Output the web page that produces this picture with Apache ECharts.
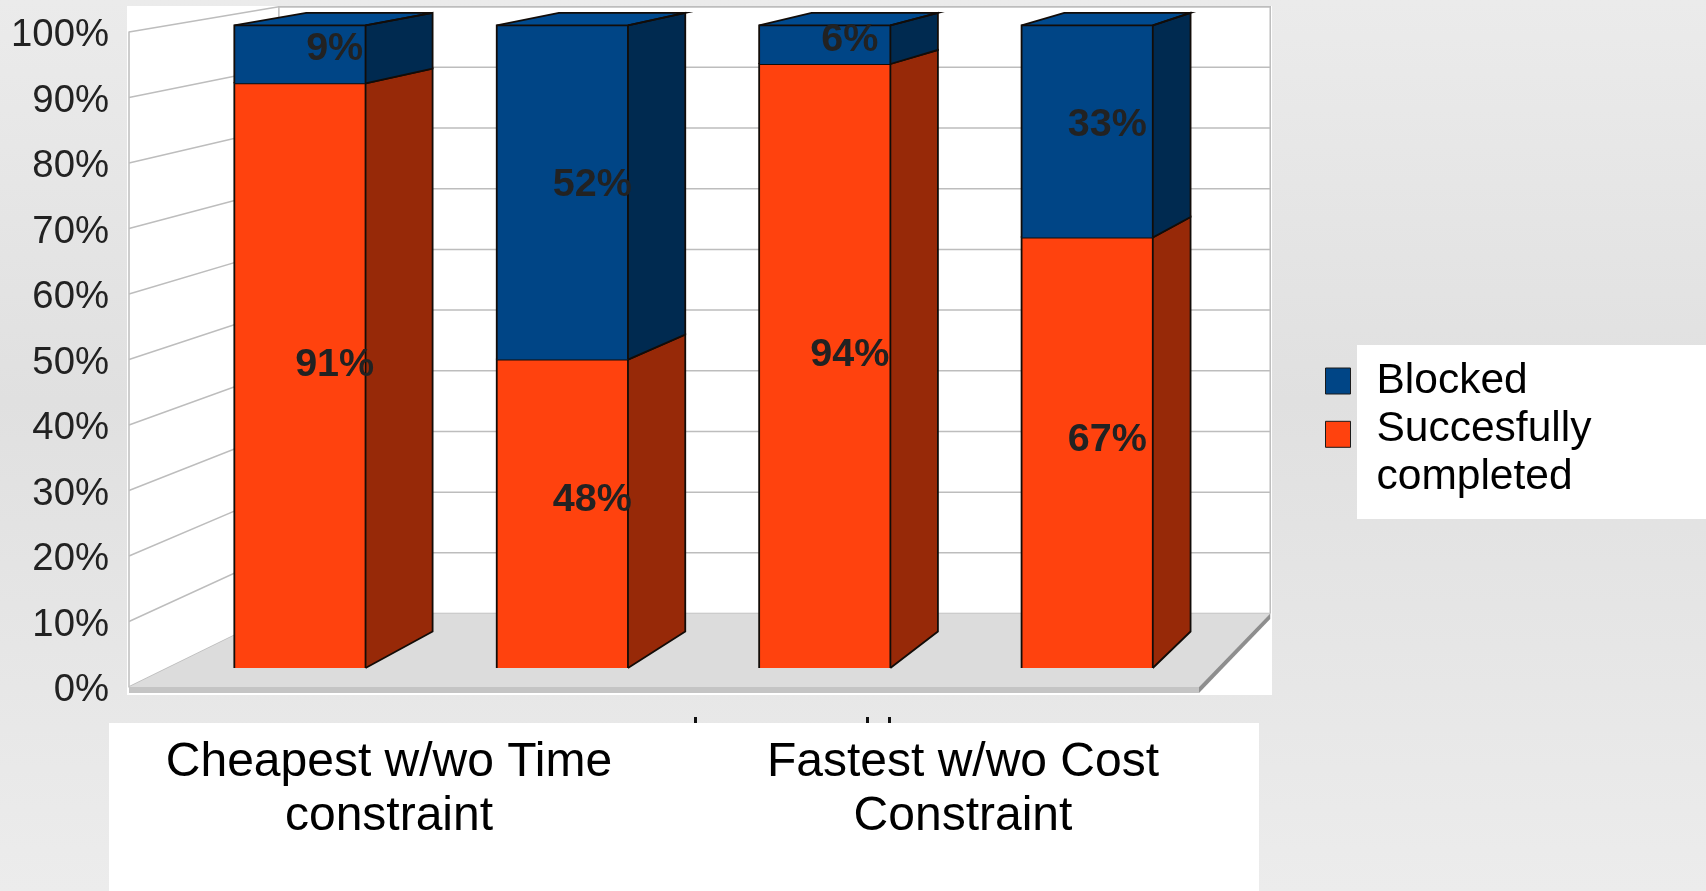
<!DOCTYPE html>
<html>
<head>
<meta charset="utf-8">
<title>Routing outcome by constraint</title>
<style>html,body{margin:0;padding:0;width:100%;height:100%;overflow:hidden}#chart{width:1706px;height:891px}</style>
<script src="https://cdn.jsdelivr.net/npm/echarts@6/dist/echarts.min.js"></script>
</head>
<body>
<div id="chart"></div>
<script>
// Chart values
const barSlots = ['1', '2', '3', '4'];
const completedValues = [91, 48, 94, 67];
const blockedValues = [9, 52, 6, 33];
const yTicks = [0, 10, 20, 30, 40, 50, 60, 70, 80, 90, 100];
const strategyLabels = ['Cheapest w/wo Time\nconstraint', 'Fastest w/wo Cost\nConstraint'];

const FONT = '"Liberation Sans", Arial, sans-serif';

// One-point perspective: depth 0 is the front of the floor, 1 would be the vanishing point.
const VANISH = [2168, -313];
const BAR_FRONT = 0.019, BAR_BACK = 0.0555, WALL_BACK = 0.0735;
const BAR_SHIFT = 1;
const project = (p, d) => [p[0] + d * (VANISH[0] - p[0]), p[1] + d * (VANISH[1] - p[1])];

// Draws a stacked block segment with its side face, and the top face when it ends the stack.
function blockRenderer(front, side, top, showTop) {
  return function (params, api) {
    const i = api.value(0), lo = api.value(1), hi = api.value(2), shown = api.value(3);
    const half = api.size([1, 0])[0] * 0.25;
    const c = api.coord([i, lo]), d = api.coord([i, hi]);
    const L = c[0] - half + BAR_SHIFT, R = c[0] + half + BAR_SHIFT, Y0 = c[1], Y1 = d[1];
    const f = (x, y) => project([x, y], BAR_FRONT), b = (x, y) => project([x, y], BAR_BACK);
    const edge = { stroke: '#120c08', lineWidth: 1.8, fill: null };
    const kids = [
      { type: 'polygon', shape: { points: [f(L, Y0), f(R, Y0), f(R, Y1), f(L, Y1)] }, style: { fill: front } },
      { type: 'polygon', shape: { points: [f(R, Y0), b(R, Y0), b(R, Y1), f(R, Y1)] }, style: { fill: side } }
    ];
    if (showTop) {
      kids.push({ type: 'polygon', shape: { points: [f(L, Y1), f(R, Y1), b(R, Y1), b(L, Y1)] }, style: { fill: top } });
      kids.push({ type: 'polyline', shape: { points: [f(L, Y1), b(L, Y1), b(R, Y1), f(R, Y1)] }, style: edge });
    }
    kids.push({ type: 'polyline', shape: { points: [f(L, Y0), f(L, Y1), f(R, Y1), f(R, Y0)] }, style: edge });
    kids.push({ type: 'polyline', shape: { points: [f(R, Y1), b(R, Y1), b(R, Y0), f(R, Y0)] }, style: edge });
    const mid = project([(L + R) / 2, (Y0 + Y1) / 2], (BAR_FRONT + BAR_BACK) / 2);
    kids.push({
      type: 'text', z2: 20,
      style: { x: mid[0], y: mid[1] + 2, text: shown + '%', fill: '#222222', font: 'bold 39.5px ' + FONT, align: 'center', verticalAlign: 'middle' }
    });
    return { type: 'group', children: kids };
  };
}

// Floor slab plus the side and back walls, with gridlines carried around both walls.
function roomRenderer(params, api) {
  const v = api.value(0);
  const grid = params.coordSys;
  const leftX = grid.x, rightX = grid.x + grid.width;
  const y = api.coord([0, v])[1];
  const gridStyle = { stroke: '#bdbdbd', lineWidth: 1.5, fill: null };
  const kids = [];
  if (v === 0) {
    kids.push({ type: 'polygon', z2: 1, shape: { points: [[leftX, y], [rightX, y], project([rightX, y], WALL_BACK), project([leftX, y], WALL_BACK)] }, style: { fill: '#dcdcdc' } });
    kids.push({ type: 'rect', z2: 1, shape: { x: leftX, y: y, width: rightX - leftX, height: 6 }, style: { fill: '#c4c4c4' } });
    kids.push({ type: 'polygon', z2: 1, shape: { points: [[rightX, y], project([rightX, y], WALL_BACK), project([rightX, y + 6], WALL_BACK), [rightX, y + 6]] }, style: { fill: '#8e8e8e' } });
    const top = api.coord([0, 100])[1];
    const corner = project([leftX, top], WALL_BACK), far = project([rightX, top], WALL_BACK), foot = project([leftX, y], WALL_BACK), farFoot = project([rightX, y], WALL_BACK);
    kids.push({ type: 'polyline', shape: { points: [foot, corner, far, farFoot] }, style: gridStyle });
  }
  const back = project([leftX, y], WALL_BACK);
  kids.push({ type: 'polyline', shape: { points: [[leftX, y], back, [project([rightX, y], WALL_BACK)[0], back[1]]] }, style: gridStyle });
  return { type: 'group', children: kids };
}

const rows = (lo, hi, shown) => barSlots.map((_, i) => [i, lo[i], hi[i], shown[i]]);
const zeros = barSlots.map(() => 0);
const option = {
  animation: false,
  backgroundColor: {
    type: 'linear', x: 0, y: 0, x2: 0, y2: 1,
    colorStops: [{ offset: 0, color: '#ebebeb' }, { offset: 0.45, color: '#e0e0e0' }, { offset: 1, color: '#ececec' }]
  },
  textStyle: { fontFamily: FONT },
  grid: [
    { left: 129, width: 1070, top: 32, height: 655 },
    { left: 102, width: 1148, top: 636, height: 72 }
  ],
  xAxis: [
    { type: 'category', gridIndex: 0, data: barSlots, axisLine: { show: false }, axisTick: { show: false }, axisLabel: { show: false } },
    {
      type: 'category', gridIndex: 1, data: strategyLabels, axisLine: { show: false }, axisTick: { show: false },
      axisLabel: { color: '#000000', fontFamily: FONT, fontSize: 48, lineHeight: 54, margin: 27.5, interval: 0 }
    }
  ],
  yAxis: [
    {
      type: 'value', gridIndex: 0, min: 0, max: 100, interval: 10, splitLine: { show: false }, axisTick: { show: false },
      axisLine: { show: true, lineStyle: { color: '#bdbdbd', width: 1.5 } },
      axisLabel: { formatter: '{value}%', color: '#222222', fontFamily: FONT, fontSize: 38.3, margin: 20, verticalAlign: 'top', lineHeight: 7 }
    },
    { type: 'value', gridIndex: 1, show: false }
  ],
  legend: {
    left: 1325, top: 346.5, padding: 0, orient: 'vertical', selectedMode: false, itemWidth: 25, itemHeight: 68, itemGap: -10.4,
    itemStyle: { borderColor: '#1a1a1a', borderWidth: 1 },
    formatter: (name) => name.replace(' ', '\n'),
    textStyle: { color: '#000000', fontFamily: FONT, fontSize: 42.5, lineHeight: 48, padding: [0, 0, 0, 21] },
    data: [
      // Swatches sit inside a taller icon box so the second one lines up with its first text line.
      { name: 'Blocked', icon: 'path://M0 21H25V47H0Z M0 0L0 0 M0 68L0 68', itemStyle: { color: '#004586' } },
      { name: 'Succesfully completed', icon: 'path://M0 2.2H25V28.2H0Z M0 0L0 0 M0 68L0 68', itemStyle: { color: '#ff420e' } }
    ]
  },
  graphic: [
    { type: 'rect', z: -1, silent: true, shape: { x: 127, y: 6, width: 1145, height: 689 }, style: { fill: '#ffffff' } },
    { type: 'rect', z: -1, silent: true, shape: { x: 109, y: 723, width: 1150, height: 168 }, style: { fill: '#ffffff' } },
    { type: 'rect', z: -1, silent: true, shape: { x: 1357, y: 345, width: 349, height: 174 }, style: { fill: '#ffffff' } },
    { type: 'rect', z: -1, silent: true, shape: { x: 694, y: 717, width: 3, height: 6 }, style: { fill: '#111111' } },
    { type: 'rect', z: -1, silent: true, shape: { x: 866, y: 717, width: 3, height: 6 }, style: { fill: '#111111' } },
    { type: 'rect', z: -1, silent: true, shape: { x: 888, y: 717, width: 3, height: 6 }, style: { fill: '#111111' } }
  ],
  series: [
    { type: 'custom', name: 'room', xAxisIndex: 0, yAxisIndex: 0, z: 1, silent: true, renderItem: roomRenderer, data: yTicks.map(v => [v]), encode: { y: 0 } },
    {
      type: 'custom', name: 'Succesfully completed', xAxisIndex: 0, yAxisIndex: 0, z: 3, silent: true,
      renderItem: blockRenderer('#ff420e', '#972908', null, false),
      data: rows(zeros, completedValues, completedValues), encode: { x: 0, y: [1, 2] }
    },
    {
      type: 'custom', name: 'Blocked', xAxisIndex: 0, yAxisIndex: 0, z: 3, silent: true,
      renderItem: blockRenderer('#004586', '#002a50', '#004a8f', true),
      data: rows(completedValues, completedValues.map((v, i) => v + blockedValues[i]), blockedValues), encode: { x: 0, y: [1, 2] }
    }
  ]
};
const chart = echarts.init(document.getElementById('chart'), null, { renderer: 'canvas' });
chart.setOption(option);
</script>
</body>
</html>
